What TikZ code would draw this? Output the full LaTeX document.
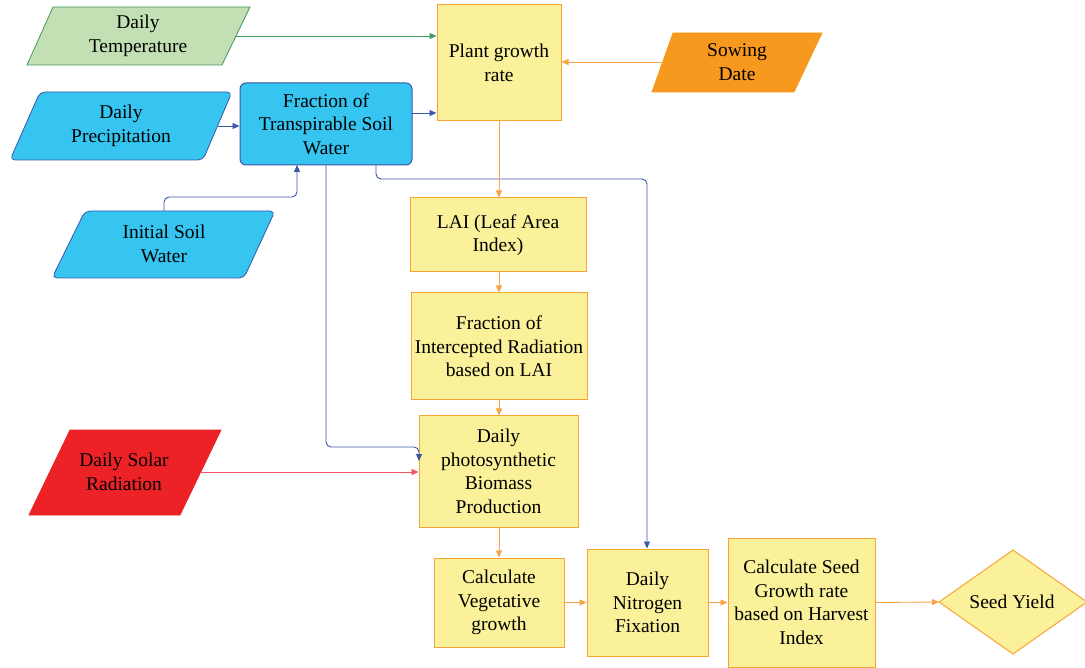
\documentclass[tikz,border=0pt]{standalone}
\usepackage{fontspec}
\setmainfont{Liberation Serif}
\usetikzlibrary{arrows.meta}
\definecolor{yel}{HTML}{FAF19A}
\definecolor{yelB}{HTML}{F6A535}
\definecolor{grnF}{HTML}{C3E0B5}
\definecolor{grnB}{HTML}{3E9A5C}
\definecolor{cyanF}{HTML}{35C5F0}
\definecolor{bluB}{HTML}{3B57A7}
\definecolor{orgF}{HTML}{F7991E}
\definecolor{redF}{HTML}{EC2227}
\definecolor{redL}{HTML}{EF5560}
\definecolor{orgL}{HTML}{F8A444}
\begin{document}
\begin{tikzpicture}[x=1pt,y=-1pt,
  txt/.style={font=\fontsize{19.5}{23.5}\selectfont, align=center, inner sep=0pt},
  ybox/.style={txt, draw=yelB, fill=yel, line width=1pt},
  conn/.style={line width=0.9pt, -{Triangle[length=7pt,width=6pt]}},
  oline/.style={conn, draw=orgL},
  bline/.style={conn, draw=bluB, rounded corners=5pt},
  gline/.style={conn, draw=grnB},
  rline/.style={conn, draw=redL}]
\useasboundingbox (0,0) rectangle (1085,668);

% input parallelograms
\filldraw[draw=grnB, fill=grnF, line width=0.8pt] (53,7) -- (250,7) -- (222,65) -- (27,65) -- cycle;
\node[txt] (temp) at (138,36) {Daily\\Temperature};

\filldraw[draw=bluB, fill=cyanF, line width=0.8pt, rounded corners=5pt] (40,92) -- (232,92) -- (203,160) -- (10,160) -- cycle;
\node[txt] (precip) at (121,126) {Daily\\Precipitation};

\filldraw[draw=bluB, fill=cyanF, line width=0.8pt, rounded corners=5pt] (85,211) -- (275,211) -- (244,278) -- (52,278) -- cycle;
\node[txt] (isw) at (164,244) {Initial Soil\\Water};

\filldraw[draw=orgF, fill=orgF, line width=0.8pt] (673,33) -- (822,33) -- (794,92) -- (652,92) -- cycle;
\node[txt] (sow) at (737,62) {Sowing\\Date};

\filldraw[draw=redF, fill=redF, line width=0.8pt] (70,430) -- (221,430) -- (180,515) -- (29,515) -- cycle;
\node[txt] (solar) at (124,472) {Daily Solar\\Radiation};

% process boxes
\node[txt, draw=bluB, fill=cyanF, line width=1pt, rounded corners=6pt, minimum width=172pt, minimum height=82pt] (ftsw) at (326,124) {Fraction of\\Transpirable Soil\\Water};
\node[ybox, minimum width=124pt, minimum height=116pt] (pgr) at (499,63) {Plant growth\\rate};
\node[ybox, minimum width=176pt, minimum height=74pt] (lai) at (498,235) {LAI (Leaf Area\\Index)};
\node[ybox, minimum width=176pt, minimum height=107pt] (fir) at (499,346.5) {Fraction of\\Intercepted Radiation\\based on LAI};
\node[ybox, minimum width=159pt, minimum height=111pt] (dpbp) at (498.5,471.5) {Daily\\photosynthetic\\Biomass\\Production};
\node[ybox, minimum width=130pt, minimum height=89pt] (cvg) at (499,602.5) {Calculate\\Vegetative\\growth};
\node[ybox, minimum width=121pt, minimum height=107pt] (dnf) at (647.5,602.5) {Daily\\Nitrogen\\Fixation};
\node[ybox, minimum width=147pt, minimum height=129pt] (csg) at (801.5,602.5) {Calculate Seed\\Growth rate\\based on Harvest\\Index};
\filldraw[draw=yelB, fill=yel, line width=1pt] (939,602) -- (1013,550) -- (1087,602) -- (1013,654) -- cycle;
\node[txt] (sy) at (1012,602) {Seed Yield};

% connector anchors on parallelograms
\coordinate (tempR) at (236,36);
\coordinate (sowL) at (663,62);
\coordinate (precipR) at (218,126);
\coordinate (iswT) at (164,211);
\coordinate (solarR) at (200,472);
\coordinate (syL) at (939,602);
\coordinate (ftswR) at (412,113);

% connectors
\draw[gline] (tempR) -- (tempR -| pgr.west);
\draw[oline] (sowL) -- (sowL -| pgr.east);
\draw[bline] (precipR) -- (precipR -| ftsw.west);
\draw[bline] (ftswR) -- (ftswR -| pgr.west);
\draw[bline] (iswT) -- (164,197) -- (297,197) -- (297,165);
\draw[bline] (326,165) -- (326,447) -- (419,447) -- (419,461);
\draw[bline] (376,165) -- (376,179) -- (647,179) -- (dnf.north -| 647,0);
\draw[oline] (pgr.south) -- (pgr.south |- lai.north);
\draw[oline] (lai.south -| 499,0) -- (fir.north);
\draw[oline] (fir.south) -- (fir.south |- dpbp.north);
\draw[rline] (solarR) -- (solarR -| dpbp.west);
\draw[oline] (dpbp.south -| 499,0) -- (cvg.north);
\draw[oline] (cvg.east) -- (dnf.west);
\draw[oline] (dnf.east) -- (csg.west);
\draw[oline] (csg.east) -- (syL);
\end{tikzpicture}
\end{document}
